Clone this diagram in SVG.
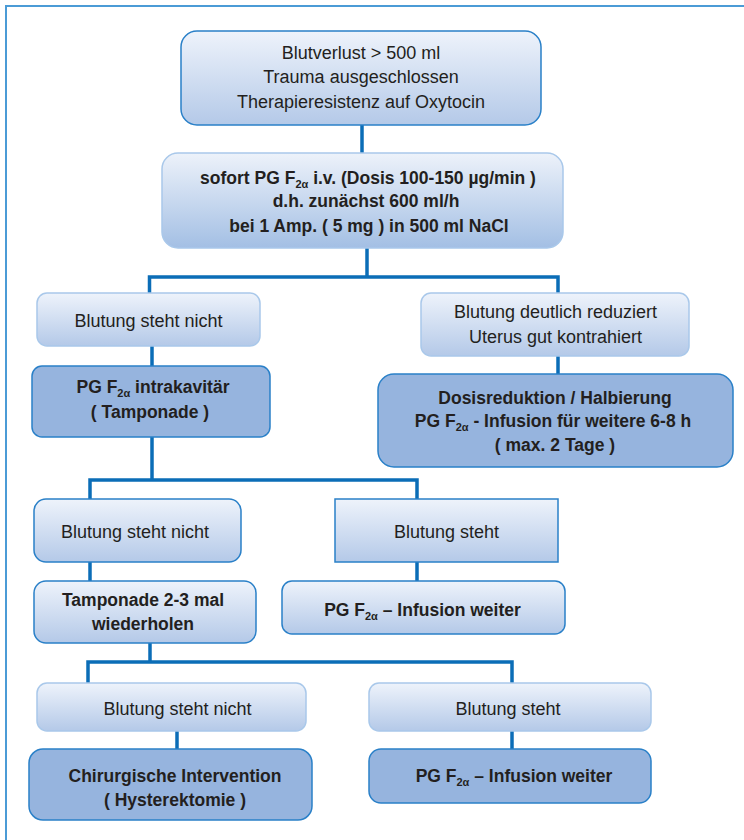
<svg xmlns="http://www.w3.org/2000/svg" width="744" height="840" viewBox="0 0 744 840">
<defs>
<linearGradient id="gl" x1="0" y1="0" x2="0" y2="1">
<stop offset="0" stop-color="#eef3fb"/>
<stop offset="1" stop-color="#b4c9e8"/>
</linearGradient>
<linearGradient id="gl2" x1="0" y1="0" x2="0" y2="1">
<stop offset="0" stop-color="#edf2fa"/>
<stop offset="1" stop-color="#a3bfe4"/>
</linearGradient>
<style>
.frame{fill:none;stroke:#4b9bd6;stroke-width:2}
.con{fill:none;stroke:#0b6db7;stroke-width:3.5}
.lt{fill:url(#gl);stroke:#a9c8ea;stroke-width:1.5}
.ltb{fill:url(#gl);stroke:#2a80c8;stroke-width:1.5}
.dk{fill:#96b4de;stroke:#2a80c8;stroke-width:1.5}
text{font-family:"Liberation Sans",Arial,sans-serif;fill:#231f20;text-anchor:middle}
.r{font-size:18px}
.b{font-size:17.5px;font-weight:bold}
.sub{font-size:11px}
</style>
</defs>
<rect class="frame" x="6" y="6" width="760" height="860"/>
<g id="connectors">
<path class="con" d="M362,125V153"/>
<path class="con" d="M367,248V277"/>
<path class="con" d="M149.5,293V277H558V293"/>
<path class="con" d="M152,346V366"/>
<path class="con" d="M558,356V374"/>
<path class="con" d="M152,437V480"/>
<path class="con" d="M90,499V480H417V499"/>
<path class="con" d="M90,562V581"/>
<path class="con" d="M417,562V582"/>
<path class="con" d="M150,643V662"/>
<path class="con" d="M88,683V662H512V683"/>
<path class="con" d="M177,731V749"/>
<path class="con" d="M512,731V749"/>
</g>
<g id="n1">
<rect class="ltb" x="181" y="31" width="360" height="94" rx="16"/>
<text class="r" x="361" y="59">Blutverlust &gt; 500 ml</text>
<text class="r" x="361" y="83">Trauma ausgeschlossen</text>
<text class="r" x="361" y="108">Therapieresistenz auf Oxytocin</text>
</g>
<g id="n2">
<rect x="162" y="153" width="401" height="95" rx="16" fill="url(#gl2)" stroke="#a9c8ea" stroke-width="1.5"/>
<text class="b" x="368" y="184">sofort PG F<tspan class="sub" dy="4">2α</tspan><tspan dy="-4"> i.v. (Dosis 100-150 µg/min )</tspan></text>
<text class="b" x="366" y="207">d.h. zunächst 600 ml/h</text>
<text class="b" x="369" y="232">bei 1 Amp. ( 5 mg ) in 500 ml NaCl</text>
</g>
<g id="n3">
<rect class="lt" x="37" y="293" width="223" height="53" rx="10"/>
<text class="r" x="148.5" y="327">Blutung steht nicht</text>
</g>
<g id="n4">
<rect class="lt" x="421" y="293" width="268" height="63" rx="10"/>
<text class="r" x="555.5" y="318">Blutung deutlich reduziert</text>
<text class="r" x="555.5" y="343">Uterus gut kontrahiert</text>
</g>
<g id="n5">
<rect class="dk" x="32" y="366" width="238" height="71" rx="10"/>
<text class="b" x="153" y="393">PG F<tspan class="sub" dy="4">2α</tspan><tspan dy="-4"> intrakavitär</tspan></text>
<text class="b" x="150" y="418">( Tamponade )</text>
</g>
<g id="n6">
<rect class="dk" x="378" y="374" width="355" height="93" rx="16"/>
<text class="b" x="555" y="404">Dosisreduktion / Halbierung</text>
<text class="b" x="553" y="427">PG F<tspan class="sub" dy="4">2α</tspan><tspan dy="-4"> - Infusion für weitere 6-8 h</tspan></text>
<text class="b" x="555" y="451">( max. 2 Tage )</text>
</g>
<g id="n7">
<rect class="ltb" x="34" y="499" width="207" height="63" rx="12"/>
<text class="r" x="135" y="538">Blutung steht nicht</text>
</g>
<g id="n8">
<rect class="ltb" x="335" y="499" width="223" height="63"/>
<text class="r" x="446.5" y="538">Blutung steht</text>
</g>
<g id="n9">
<rect class="ltb" x="34" y="581" width="222" height="62" rx="12"/>
<text class="b" x="143" y="606">Tamponade 2-3 mal</text>
<text class="b" x="143" y="630">wiederholen</text>
</g>
<g id="n10">
<rect class="ltb" x="282" y="581" width="283" height="53" rx="10"/>
<text class="b" x="422.5" y="616">PG F<tspan class="sub" dy="4">2α</tspan><tspan dy="-4"> – Infusion weiter</tspan></text>
</g>
<g id="n11">
<rect class="lt" x="37" y="683" width="269" height="48" rx="10"/>
<text class="r" x="177.5" y="715">Blutung steht nicht</text>
</g>
<g id="n12">
<rect class="lt" x="369" y="683" width="282" height="48" rx="10"/>
<text class="r" x="508" y="715">Blutung steht</text>
</g>
<g id="n13">
<rect class="dk" x="29" y="749" width="283" height="71" rx="14"/>
<text class="b" x="175" y="782">Chirurgische Intervention</text>
<text class="b" x="175" y="806">( Hysterektomie )</text>
</g>
<g id="n14">
<rect class="dk" x="369" y="749" width="282" height="54" rx="12"/>
<text class="b" x="514" y="782">PG F<tspan class="sub" dy="4">2α</tspan><tspan dy="-4"> – Infusion weiter</tspan></text>
</g>
</svg>
